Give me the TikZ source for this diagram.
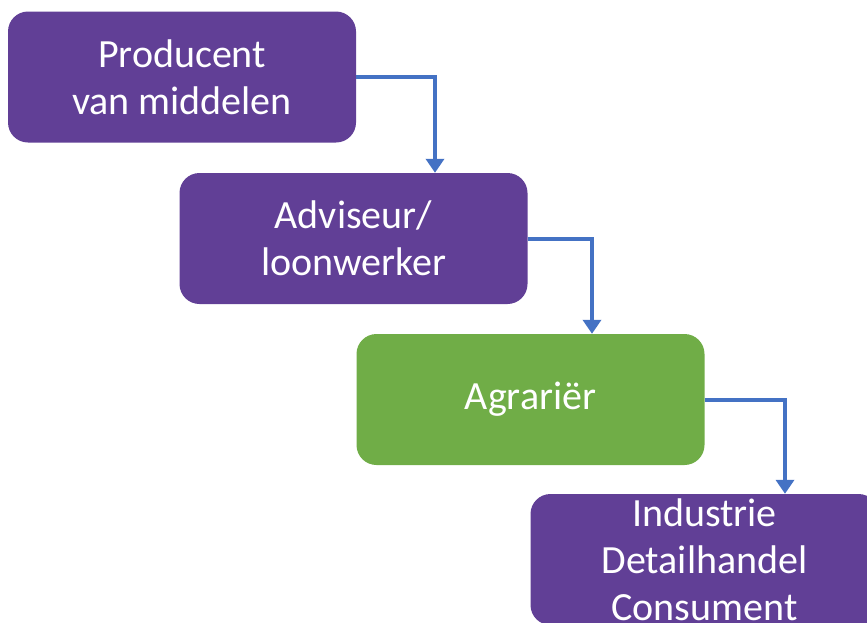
\documentclass[tikz,border=0pt]{standalone}
\usepackage{fontspec}
\setmainfont{Carlito}
\usetikzlibrary{arrows.meta}
\begin{document}
\begin{tikzpicture}[x=1pt,y=-1pt]
        %kleuren
        \definecolor{paars}{HTML}{613F96}
        \definecolor{groen}{HTML}{70AD47}
        \definecolor{pijlblauw}{HTML}{4472C4}
        \tikzset{
            blok/.style={fill=paars,rounded corners=20pt,minimum width=348pt,
                minimum height=131pt,text=white,align=center,inner sep=0pt,
                font=\fontsize{40}{47}\selectfont},
            pijl/.style={pijlblauw,line width=4pt,
                -{Triangle[width=18pt,length=14pt]}}
        }

        % Kader
        \useasboundingbox (0,0) rectangle (867,622);
        \clip (0,0) rectangle (867,622);

        % Blokken
        \node[blok] (producent) at (182,77) {Producent\\van middelen};
        \node[blok] (adviseur) at (353.5,238.5) {Adviseur/\\loonwerker};
        \node[blok,fill=groen] (agrarier) at (530.5,399.5) {Agrariër};
        \node[blok] (keten) at (704.5,559.5) {Industrie\\Detailhandel\\Consument};

        % Pijlen
        \draw[pijl] (producent.east) -| ([xshift=81.5pt]adviseur.north);
        \draw[pijl] (adviseur.east) -| ([xshift=61.5pt]agrarier.north);
        \draw[pijl] (agrarier.east) -| ([xshift=80.5pt]keten.north);
    \end{tikzpicture}
\end{document}
